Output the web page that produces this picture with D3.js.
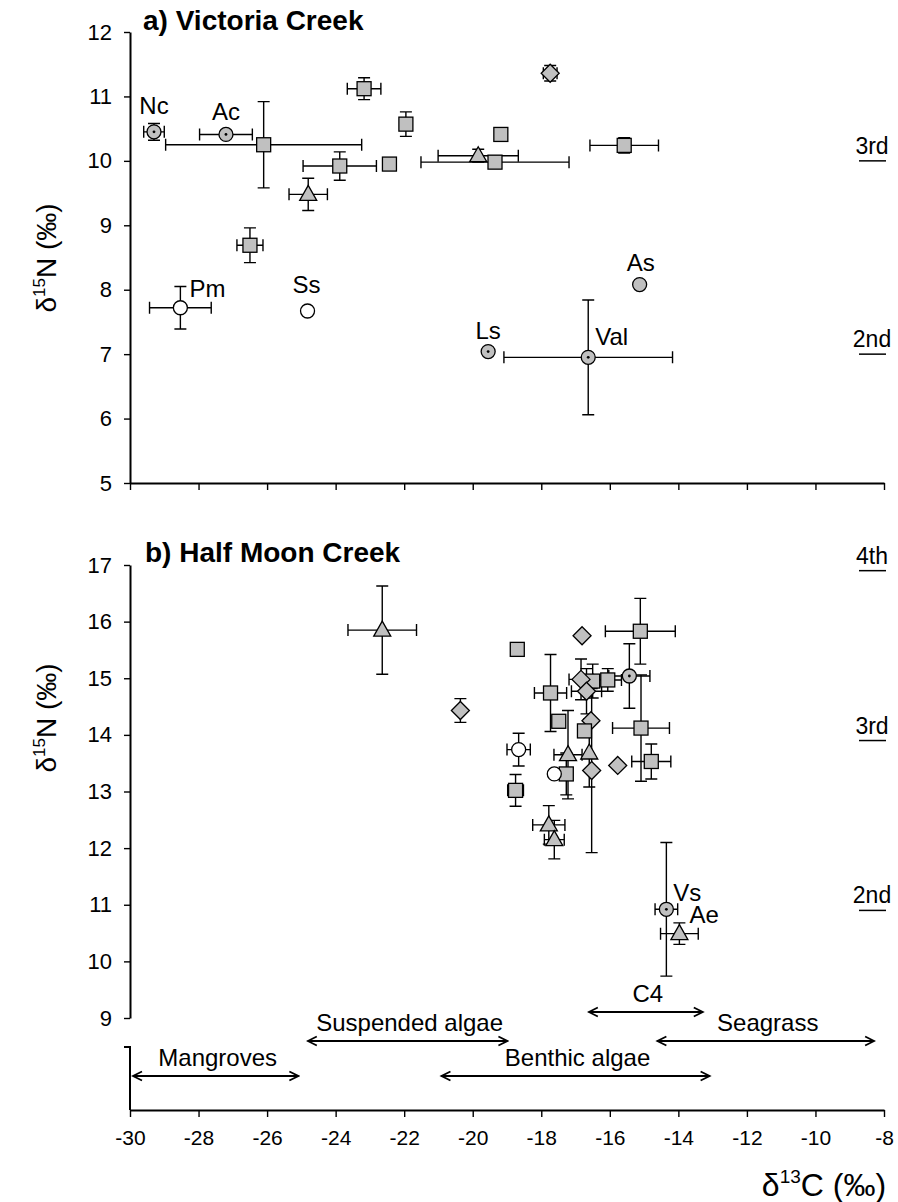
<!DOCTYPE html>
<html>
<head>
<meta charset="utf-8">
<script src="https://cdn.jsdelivr.net/npm/d3@7"></script>
<style>
  body { margin: 0; background: #fff; }
  text { font-family: Arial, "Liberation Sans", Helvetica, sans-serif; fill: #000; }
</style>
</head>
<body>
<svg id="chart" width="898" height="1202"></svg>
<script>
// ---- axis ticks ----
const xTicks = d3.range(-30, -7, 2);
const yTicksVictoria = d3.range(5, 13);
const yTicksHalfMoon = d3.range(9, 18);

// ---- a) Victoria Creek: marker, δ13C, δ15N, SD of δ13C, SD of δ15N ----
const victoriaData = [
  { code: "Nc",  m: "dot",  c: -29.30, n: 10.45, sc: 0.30, sn: 0.13 },
  { code: "Ac",  m: "dot",  c: -27.20, n: 10.41, sc: 0.77, sn: 0 },
  { code: "",    m: "sq",   c: -26.10, n: 10.25, sc: 2.86, sn: 0.67 },
  { code: "",    m: "sq",   c: -23.17, n: 11.12, sc: 0.49, sn: 0.17 },
  { code: "",    m: "sq",   c: -23.88, n:  9.92, sc: 1.07, sn: 0.22 },
  { code: "",    m: "sq",   c: -22.43, n:  9.95, sc: 0,    sn: 0 },
  { code: "",    m: "tri",  c: -24.80, n:  9.48, sc: 0.56, sn: 0.25 },
  { code: "",    m: "sq",   c: -26.50, n:  8.69, sc: 0.38, sn: 0.27 },
  { code: "Pm",  m: "open", c: -28.53, n:  7.72, sc: 0.90, sn: 0.33 },
  { code: "Ss",  m: "open", c: -24.82, n:  7.67, sc: 0,    sn: 0 },
  { code: "Ls",  m: "dot",  c: -19.55, n:  7.04, sc: 0,    sn: 0 },
  { code: "Val", m: "dot",  c: -16.63, n:  6.95, sc: 2.46, sn: 0.89 },
  { code: "As",  m: "grey", c: -15.13, n:  8.08, sc: 0,    sn: 0 },
  { code: "",    m: "dia",  c: -17.74, n: 11.36, sc: 0.20, sn: 0.12 },
  { code: "",    m: "sq",   c: -21.95, n: 10.57, sc: 0,    sn: 0.19 },
  { code: "",    m: "sq",   c: -19.18, n: 10.41, sc: 0,    sn: 0 },
  { code: "",    m: "tri",  c: -19.84, n: 10.08, sc: 1.17, sn: 0.10 },
  { code: "",    m: "sq",   c: -19.35, n:  9.98, sc: 2.16, sn: 0 },
  { code: "",    m: "sq",   c: -15.58, n: 10.24, sc: 1.00, sn: 0.12 }
];

// ---- b) Half Moon Creek ----
const halfMoonData = [
  { code: "",   m: "tri",  c: -22.64, n: 15.85, sc: 1.00, sn: 0.78 },
  { code: "",   m: "dia",  c: -20.36, n: 14.43, sc: 0,    sn: 0.21 },
  { code: "",   m: "sq",   c: -15.11, n: 15.83, sc: 1.02, sn: 0.58 },
  { code: "",   m: "dia",  c: -16.81, n: 15.75, sc: 0,    sn: 0 },
  { code: "",   m: "sq",   c: -18.70, n: 15.51, sc: 0,    sn: 0 },
  { code: "",   m: "sq",   c: -16.50, n: 14.95, sc: 0,    sn: 0.30 },
  { code: "",   m: "dia",  c: -16.84, n: 14.98, sc: 0.35, sn: 0.36 },
  { code: "",   m: "sq",   c: -16.06, n: 14.97, sc: 0.40, sn: 0.20 },
  { code: "",   m: "dot",  c: -15.43, n: 15.04, sc: 0.60, sn: 0.57 },
  { code: "",   m: "sq",   c: -17.73, n: 14.74, sc: 0.47, sn: 0.68 },
  { code: "",   m: "dia",  c: -16.68, n: 14.77, sc: 0.44, sn: 0.40 },
  { code: "",   m: "sq",   c: -17.49, n: 14.24, sc: 0,    sn: 0 },
  { code: "",   m: "dia",  c: -16.55, n: 14.25, sc: 0,    sn: 0 },
  { code: "",   m: "sq",   c: -16.74, n: 14.07, sc: 0,    sn: 0 },
  { code: "",   m: "sq",   c: -15.09, n: 14.12, sc: 0.83, sn: 0.94 },
  { code: "",   m: "open", c: -18.66, n: 13.74, sc: 0.34, sn: 0.29 },
  { code: "",   m: "tri",  c: -17.22, n: 13.65, sc: 0.41, sn: 0.78 },
  { code: "",   m: "tri",  c: -16.60, n: 13.68, sc: 0,    sn: 0.60 },
  { code: "",   m: "sq",   c: -17.27, n: 13.31, sc: 0,    sn: 0.37 },
  { code: "",   m: "open", c: -17.62, n: 13.31, sc: 0,    sn: 0 },
  { code: "",   m: "dia",  c: -15.77, n: 13.46, sc: 0,    sn: 0 },
  { code: "",   m: "dia",  c: -16.53, n: 13.37, sc: 0,    sn: 1.45 },
  { code: "",   m: "sq",   c: -14.79, n: 13.53, sc: 0.57, sn: 0.31 },
  { code: "",   m: "sq",   c: -18.75, n: 13.02, sc: 0.23, sn: 0.28 },
  { code: "",   m: "tri",  c: -17.78, n: 12.41, sc: 0.47, sn: 0.34 },
  { code: "",   m: "tri",  c: -17.62, n: 12.15, sc: 0.29, sn: 0.34 },
  { code: "Vs", m: "dot",  c: -14.35, n: 10.92, sc: 0.33, sn: 1.18 },
  { code: "Ae", m: "tri",  c: -13.97, n: 10.49, sc: 0.55, sn: 0.19 }
];

// ---- trophic level guides (δ15N) ----
const victoriaLevels = [ { label: "3rd", n: 10 }, { label: "2nd", n: 7 } ];
const halfMoonLevels = [ { label: "4th", n: 16.9 }, { label: "3rd", n: 13.9 }, { label: "2nd", n: 10.9 } ];

// ---- δ13C ranges of primary producers (lane 0 = top) ----
const sourceNames = ["Mangroves", "Suspended algae", "Benthic algae", "C4", "Seagrass"];
const sourceFrom  = [-30.0, -24.9, -21.0, -16.7, -14.7];
const sourceTo    = [-25.0, -18.9, -13.0, -13.2,  -8.2];
const sourceLane  = [2, 1, 2, 0, 1];

// ---- label placement around points (px) ----
const labelOffsets = {
  Nc: { dx: 0, dy: -18, anchor: "middle" },
  Ac: { dx: 0, dy: -14, anchor: "middle" },
  Pm: { dx: 9, dy: -11, anchor: "start" },
  Ss: { dx: -1, dy: -18, anchor: "middle" },
  Ls: { dx: 0, dy: -13, anchor: "middle" },
  Val: { dx: 7, dy: -12, anchor: "start" },
  As: { dx: 1, dy: -14, anchor: "middle" },
  Vs: { dx: 7, dy: -8, anchor: "start" },
  Ae: { dx: 10, dy: -11, anchor: "start" }
};

// ---- layout ----
const svg = d3.select("#chart");
const X0 = 130, X1 = 884;
const x = d3.scaleLinear().domain([-30, -8]).range([X0, X1]);
const yA = d3.scaleLinear().domain([5, 12]).range([483, 32]);
const yB = d3.scaleLinear().domain([9, 17]).range([1018, 565]);
const grey = "#c0c0c0";
const laneY = [1012, 1041, 1076];
const baseAxisY = 1110;
const fmt = d => String(d);   // plain hyphen-minus

function styleAxis(g, size) {
  g.select(".domain").attr("stroke", "#000").attr("stroke-width", 2);
  g.selectAll(".tick line").attr("stroke", "#000").attr("stroke-width", 1.4);
  g.selectAll(".tick text").attr("font-size", size).attr("fill", "#000")
    .attr("font-family", "Arial, 'Liberation Sans', sans-serif");
}

// y axes
function yAxis(scale, ticks) {
  const g = svg.append("g").attr("transform", `translate(${X0},0)`)
    .call(d3.axisLeft(scale).tickValues(ticks).tickSize(6).tickSizeOuter(0).tickPadding(12).tickFormat(fmt));
  styleAxis(g, 22);
  return g;
}
yAxis(yA, yTicksVictoria);
yAxis(yB, yTicksHalfMoon);

// top panel x axis (ticks only)
const gxA = svg.append("g").attr("transform", `translate(0,${yA(5)})`)
  .call(d3.axisBottom(x).tickValues(xTicks).tickSize(7).tickSizeOuter(0).tickFormat(""));
styleAxis(gxA, 21);

// bottom x axis with labels
const gxB = svg.append("g").attr("transform", `translate(0,${baseAxisY})`)
  .call(d3.axisBottom(x).tickValues(xTicks).tickSize(7).tickSizeOuter(0).tickPadding(13).tickFormat(fmt));
styleAxis(gxB, 21);

// small frame holding the producer ranges
svg.append("path")
  .attr("d", `M${X0 - 6},1047H${X0}V${baseAxisY}`)
  .attr("fill", "none").attr("stroke", "#000").attr("stroke-width", 2);

// y axis titles
function yTitle(cy) {
  const t = svg.append("text").attr("transform", `translate(56,${cy}) rotate(-90)`)
    .attr("text-anchor", "middle").attr("font-size", 28);
  t.append("tspan").text("δ");
  t.append("tspan").attr("font-size", 17).attr("dy", -11).text("15");
  t.append("tspan").attr("dy", 11).text("N (‰)");
}
yTitle(258);
yTitle(718);

// x axis title
{
  const t = svg.append("text").attr("x", 824).attr("y", 1196)
    .attr("text-anchor", "middle").attr("font-size", 32);
  t.append("tspan").text("δ");
  t.append("tspan").attr("font-size", 19).attr("dy", -13).text("13");
  t.append("tspan").attr("dy", 13).text("C (‰)");
}

// panel titles
svg.append("text").attr("x", 143).attr("y", 30).attr("font-size", 28).attr("font-weight", "bold").text("a) Victoria Creek");
svg.append("text").attr("x", 145).attr("y", 562).attr("font-size", 28).attr("font-weight", "bold").text("b) Half Moon Creek");

// trophic level guides
function levels(list, y) {
  const g = svg.append("g");
  list.forEach(d => {
    g.append("line").attr("x1", 859).attr("x2", 886).attr("y1", y(d.n)).attr("y2", y(d.n))
      .attr("stroke", "#000").attr("stroke-width", 1.5);
    g.append("text").attr("x", 872).attr("y", y(d.n) - 7).attr("text-anchor", "middle")
      .attr("font-size", 23).text(d.label);
  });
}
levels(victoriaLevels, yA);
levels(halfMoonLevels, yB);

// error bars and markers
const CAP = 6;
function errorBars(g, data, y) {
  data.forEach(d => {
    const px = x(d.c), py = y(d.n);
    if (d.sc > 0) {
      const l = x(d.c - d.sc), r = x(d.c + d.sc);
      g.append("path").attr("d", `M${l},${py}H${r}M${l},${py - CAP}V${py + CAP}M${r},${py - CAP}V${py + CAP}`);
    }
    if (d.sn > 0) {
      const t = y(d.n + d.sn), b = y(d.n - d.sn);
      g.append("path").attr("d", `M${px},${t}V${b}M${px - CAP},${t}H${px + CAP}M${px - CAP},${b}H${px + CAP}`);
    }
  });
}
function markers(g, data, y) {
  data.forEach(d => {
    const px = x(d.c), py = y(d.n);
    if (d.m === "sq") {
      g.append("rect").attr("x", px - 7).attr("y", py - 7).attr("width", 14).attr("height", 14).attr("fill", grey);
    } else if (d.m === "dia") {
      g.append("path").attr("d", `M${px},${py - 9}L${px + 9},${py}L${px},${py + 9}L${px - 9},${py}Z`).attr("fill", grey);
    } else if (d.m === "tri") {
      g.append("path").attr("d", `M${px},${py - 9}L${px + 8.5},${py + 6}L${px - 8.5},${py + 6}Z`).attr("fill", grey);
    } else if (d.m === "open") {
      g.append("circle").attr("cx", px).attr("cy", py).attr("r", 7).attr("fill", "#fff");
    } else if (d.m === "grey") {
      g.append("circle").attr("cx", px).attr("cy", py).attr("r", 7).attr("fill", grey);
    } else if (d.m === "dot") {
      g.append("circle").attr("cx", px).attr("cy", py).attr("r", 7).attr("fill", grey);
      g.append("circle").attr("cx", px).attr("cy", py).attr("r", 1.4).attr("fill", "#000").attr("stroke", "none");
    }
  });
}
function labels(g, data, y) {
  data.filter(d => d.code).forEach(d => {
    const o = labelOffsets[d.code];
    g.append("text").attr("x", x(d.c) + o.dx).attr("y", y(d.n) + o.dy)
      .attr("text-anchor", o.anchor).attr("font-size", 24).text(d.code);
  });
}
function panel(data, y) {
  errorBars(svg.append("g").attr("fill", "none").attr("stroke", "#000").attr("stroke-width", 1.4), data, y);
  markers(svg.append("g").attr("stroke", "#000").attr("stroke-width", 1.3), data, y);
  labels(svg.append("g"), data, y);
}
panel(victoriaData, yA);
panel(halfMoonData, yB);

// producer δ13C ranges
const defs = svg.append("defs");
["arrowEnd", "arrowStart"].forEach((id, i) => {
  defs.append("marker").attr("id", id).attr("viewBox", "-10 -6 12 12")
    .attr("refX", 0).attr("refY", 0).attr("markerWidth", 12).attr("markerHeight", 12)
    .attr("markerUnits", "userSpaceOnUse").attr("orient", i === 0 ? "auto" : "auto-start-reverse")
    .append("path").attr("d", "M-9,-4.5L0,0L-9,4.5").attr("fill", "none").attr("stroke", "#000").attr("stroke-width", 1.8);
});
sourceNames.forEach((name, i) => {
  const l = x(sourceFrom[i]) + 3, r = x(sourceTo[i]) - 3, yy = laneY[sourceLane[i]];
  svg.append("line").attr("x1", l).attr("x2", r).attr("y1", yy).attr("y2", yy)
    .attr("stroke", "#000").attr("stroke-width", 1.8)
    .attr("marker-start", "url(#arrowStart)").attr("marker-end", "url(#arrowEnd)");
  svg.append("text").attr("x", (l + r) / 2 + 2).attr("y", yy - 10)
    .attr("text-anchor", "middle").attr("font-size", 24).text(name);
});
</script>
</body>
</html>
